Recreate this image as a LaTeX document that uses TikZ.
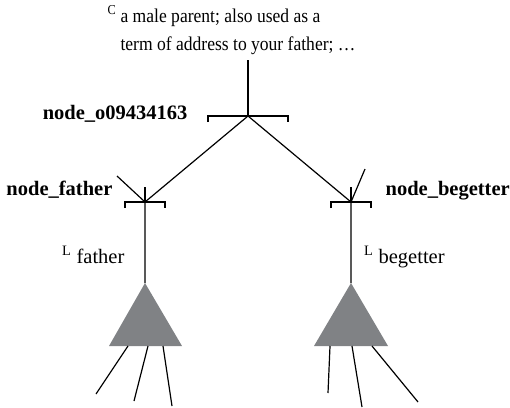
\documentclass[tikz,border=0pt]{standalone}
\usepackage{fontspec}
\setmainfont{Liberation Serif}
\usetikzlibrary{positioning,calc}
\definecolor{trigray}{HTML}{808285}

\begin{document}
\begin{tikzpicture}[x=1pt, y=-1pt, line width=1.2pt,
  every node/.style={font=\fontsize{20.5}{25}\selectfont, inner sep=0pt},
  lbl/.style={font=\fontsize{20.5}{25}\selectfont\bfseries},
  gloss/.style={font=\fontsize{19.5}{25}\selectfont, xscale=0.9, transform shape}]
\useasboundingbox (0,0) rectangle (510,407);

\coordinate (root) at (248,116);
\coordinate (rootstem) at (248,60);
\coordinate (father) at (145,202);
\coordinate (begetter) at (351,202);
\coordinate (fatherin) at (117,176);
\coordinate (begetterin) at (365,169);
\coordinate (fathertri) at (145,283);
\coordinate (begettertri) at (351,283);

\node[gloss, anchor=base west] (gloss1) at (120,22) {\llap{\textsuperscript{C} }a male parent; also used as a};
\node[gloss, anchor=base west] (gloss2) at (120,50) {term of address to your father; …};

\node[lbl, anchor=base east] (rootlbl) at (188,119) {node\_o09434163};
\node[lbl, anchor=base east] (fatherlbl) at (113,195) {node\_father};
\node[lbl, anchor=base west] (begetterlbl) at (385,195) {node\_begetter};
\node[anchor=base west] (fatherlex) at (76,263) {\llap{\textsuperscript{L} }father};
\node[anchor=base west] (begetterlex) at (378,263) {\llap{\textsuperscript{L} }begetter};

\draw (rootstem) -- (root);
\draw ($(root)+(-40,6)$) -- ++(0,-6) -- ++(80,0) -- ++(0,6);
\draw (root) -- (father);
\draw (root) -- (begetter);

\draw ($(father)+(0,-15)$) -- (father);
\draw ($(father)+(-20,6)$) -- ++(0,-6) -- ++(40,0) -- ++(0,6);
\draw (fatherin) -- (father) -- (fathertri);
\draw ($(begetter)+(0,-15)$) -- (begetter);
\draw ($(begetter)+(-20,6)$) -- ++(0,-6) -- ++(40,0) -- ++(0,6);
\draw (begetterin) -- (begetter) -- (begettertri);

\fill[trigray] (fathertri) -- ++(37,63) -- ++(-73,0) -- cycle;
\fill[trigray] (begettertri) -- ++(37,63) -- ++(-74,0) -- cycle;

\foreach \i/\sx/\ex/\ey in {1/128/96/394, 2/148/134/401, 3/163/172/406}{
  \coordinate (fs\i) at (\sx,346);
  \coordinate (fe\i) at (\ex,\ey);
  \draw (fs\i) -- (fe\i);}
\foreach \i/\sx/\ex/\ey in {1/330/328/393, 2/352/362/407, 3/372/418/402}{
  \coordinate (bs\i) at (\sx,346);
  \coordinate (be\i) at (\ex,\ey);
  \draw (bs\i) -- (be\i);}
\end{tikzpicture}
\end{document}
